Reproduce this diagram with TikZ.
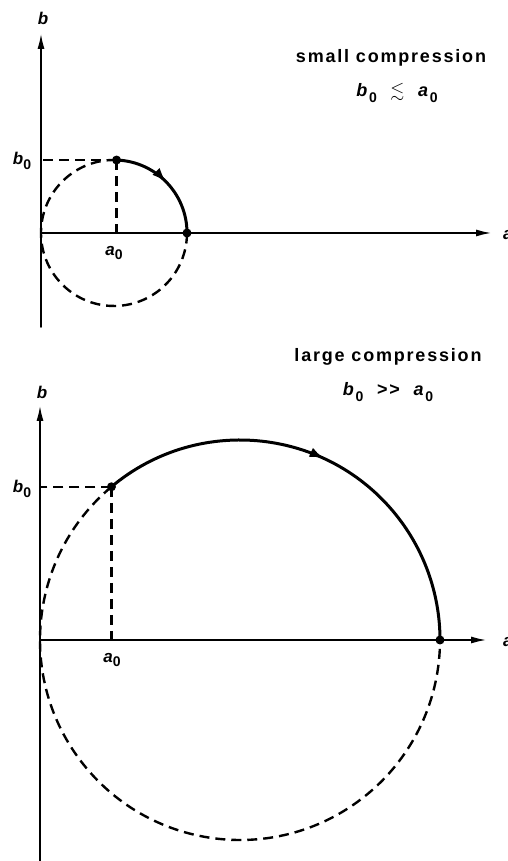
\documentclass[tikz,border=0pt]{standalone}
\usepackage{fontspec}
\usepackage{amssymb}
\setmainfont{Liberation Sans}
\newfontfamily\titulo[LetterSpace=10]{Liberation Sans}
\usetikzlibrary{arrows.meta,decorations.markings}
\newcommand{\vsub}[2]{\textbf{\textit{#1}}\raisebox{-0.55ex}{\bfseries\upshape\fontsize{14}{14}\selectfont #2}}
\begin{document}
\begin{tikzpicture}[x=1pt, y=1pt, line cap=round, line join=round,
  eje/.style={line width=2pt, -{Latex[length=16pt,width=7pt]}},
  guia/.style={line width=2.4pt, dash pattern=on 10pt off 6pt, line cap=butt},
  orbita/.style={line width=3pt, postaction=decorate,
    decoration={markings, mark=at position 0.5 with {\arrow{Latex[length=15pt,width=10pt]}}}},
  punto/.style={circle, fill, inner sep=0pt, minimum size=9pt},
  etiq/.style={font=\fontsize{17}{17}\selectfont\bfseries\itshape, inner sep=1pt},
  cabecera/.style={font=\titulo\fontsize{18}{18}\selectfont\bfseries, inner sep=1pt}]
  \useasboundingbox (0,0) rectangle (507,861);
  % arriba: compresion pequena
  \begin{scope}[shift={(41,628)}]
    \coordinate (o1) at (0,0);
    \draw[eje] (0,-94) -- (0,200);
    \draw[eje] (o1) -- (451,0);
    \node[etiq] (eb1) at (2,215) {b};
    \node[etiq, anchor=west] (ea1) at (461,-2) {a};
    \path (73,0) ++(88:73) coordinate (p1);
    \coordinate (q1) at (146,0);
    \draw[guia] (p1) arc (88:360:73);
    \draw[guia] (p1) -- (p1 |- o1);
    \draw[guia] (p1) -- (o1 |- p1);
    \draw[orbita] (p1) arc (88:0:73);
    \node[punto] (d1) at (p1) {};
    \node[punto] (f1) at (q1) {};
    \node[etiq] (b01) at (-19,72) {\vsub{b}{0}};
    \node[etiq] (a01) at (73,-20) {\vsub{a}{0}};
    \node[cabecera] (t1) at (350,175) {small compression};
    \node[cabecera] (r1) at (356,140) {\vsub{b}{0}\ \ $\lesssim$\ \ \vsub{a}{0}};
  \end{scope}
  % abajo: compresion grande
  \begin{scope}[shift={(40,221)}]
    \coordinate (o2) at (0,0);
    \draw[eje] (0,-221) -- (0,235);
    \draw[eje] (o2) -- (447,0);
    \node[etiq] (eb2) at (2,248) {b};
    \node[etiq, anchor=west] (ea2) at (462,-2) {a};
    \path (200,0) ++(130:200) coordinate (p2);
    \coordinate (q2) at (400,0);
    \draw[guia] (p2) arc (130:360:200);
    \draw[guia] (p2) -- (p2 |- o2);
    \draw[guia] (p2) -- (o2 |- p2);
    \draw[orbita] (p2) arc (130:0:200);
    \node[punto] (d2) at (p2) {};
    \node[punto] (f2) at (q2) {};
    \node[etiq] (b02) at (-18,151) {\vsub{b}{0}};
    \node[etiq] (a02) at (72,-20) {\vsub{a}{0}};
    \node[cabecera] (t2) at (348,283) {large compression};
    \node[cabecera] (r2) at (348,248) {\vsub{b}{0}\ \ >>\ \ \vsub{a}{0}};
  \end{scope}
\end{tikzpicture}
\end{document}
